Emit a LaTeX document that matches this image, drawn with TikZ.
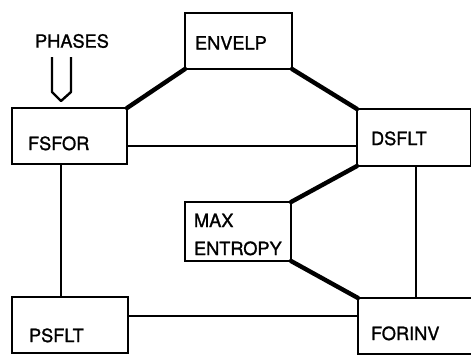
\documentclass[tikz,border=0pt]{standalone}
\usepackage{fontspec}
\setmainfont[FakeBold=1.2]{TeX Gyre Heros}
\usetikzlibrary{calc}
\tikzset{
  blk/.style={draw,line width=2.8pt,outer sep=0pt,minimum height=56pt,inner ysep=0pt,
    align=left,text depth=0pt,font=\fontsize{18.2}{28}\selectfont},
  thick link/.style={line width=4.4pt,line cap=round},
  thin link/.style={line width=2.4pt}
}

\begin{document}
\begin{tikzpicture}[x=1pt,y=-1pt]
\clip (0,0) rectangle (471,354);
\fill[white] (0,0) rectangle (471,354);
% boxes
\node[blk,text width=87pt,inner xsep=10pt,text height=17pt] (envelp) at (238.5,41) {ENVELP};
\node[blk,text width=83pt,inner xsep=16pt,text height=28pt] (fsfor) at (69.5,136) {FSFOR};
\node[blk,text width=86pt,inner xsep=14pt,text height=15pt,minimum height=57pt] (dsflt) at (414,137.5) {DSFLT};
\node[blk,text width=88pt,inner xsep=9pt,minimum height=59pt,text height=13pt,text depth=22pt] (maxent) at (238,231.5) {MAX\\ENTROPY};
\node[blk,text width=82pt,inner xsep=17pt,text height=34pt] (psflt) at (70,325) {PSFLT};
\node[blk,text width=88pt,inner xsep=13pt,text height=28pt] (forinv) at (415,326) {FORINV};
% input
\node[font=\fontsize{18.2}{20}\selectfont,inner sep=0pt] (phases) at (72,41) {PHASES};
\coordinate (tip) at ($(fsfor.north west)+(49,-7)$);
\draw[thin link,line join=round] ($(tip)+(-9,-44)$) -- ($(tip)+(-9,-9)$) -- (tip) -- ($(tip)+(10,-9)$) -- ($(tip)+(10,-44)$);
% links
\draw[thick link] (envelp.south west) -- (fsfor.north east);
\draw[thick link] (envelp.south east) -- (dsflt.north west);
\draw[thick link] (maxent.north east) -- (dsflt.south west);
\draw[thick link] (maxent.south east) -- (forinv.north west);
\draw[thin link] ($(fsfor.east)+(0,10)$) coordinate (a) -- (dsflt.west |- a);
\draw[thin link] ($(psflt.east)+(0,-9)$) coordinate (b) -- (forinv.west |- b);
\draw[thin link] ($(fsfor.south)+(-8.5,0)$) coordinate (c) -- (psflt.north -| c);
\draw[thin link] ($(dsflt.south)+(2,0)$) coordinate (d) -- (forinv.north -| d);
\end{tikzpicture}
\end{document}
